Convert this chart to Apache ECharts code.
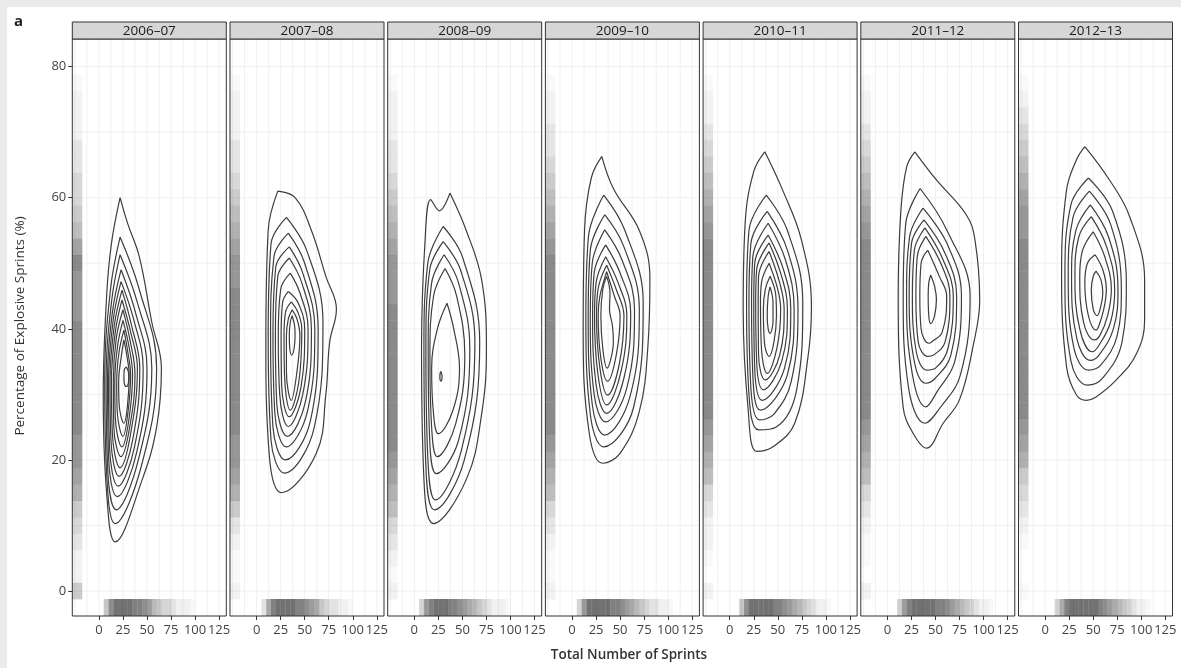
<!DOCTYPE html>
<html>
<head>
<meta charset="utf-8">
<script src="https://cdn.jsdelivr.net/npm/echarts@6/dist/echarts.min.js"></script>
<style>
  html, body { margin: 0; padding: 0; background: #ebebeb; }
  #paper { position: absolute; left: 7px; top: 7px; width: 1174px; height: 661px; background: #fff; }
  #chart { position: absolute; left: 0; top: 0; width: 1181px; height: 668px; }
</style>
</head>
<body>
<div id="paper"></div>
<div id="chart"></div>
<script>
// facets
const seasons = ['2006–07', '2007–08', '2008–09', '2009–10', '2010–11', '2011–12', '2012–13'];

// axes
const xTicks = [0, 25, 50, 75, 100, 125];
const yTicks = [0, 20, 40, 60, 80];
const xRange = [-27.7, 132.5];
const yRange = [-3.8, 84.2];
const xGridLines = [-25, -12.5, 0, 12.5, 25, 37.5, 50, 62.5, 75, 87.5, 100, 112.5, 125];
const yGridLines = [0, 10, 20, 30, 40, 50, 60, 70, 80];

// rug bins (left: % explosive, bottom: total sprints), values are darkness levels
const leftRugBins = [0, 2.5, 5, 7.5, 10, 12.5, 15, 17.5, 20, 22.5, 25, 27.5, 30, 32.5, 35, 37.5, 40,
  42.5, 45, 47.5, 50, 52.5, 55, 57.5, 60, 62.5, 65, 67.5, 70, 72.5, 75, 77.5, 80];
const bottomRugBins = [2.5, 7.5, 12.5, 17.5, 22.5, 27.5, 32.5, 37.5, 42.5, 47.5, 52.5, 57.5, 62.5,
  67.5, 72.5, 77.5, 82.5, 87.5, 92.5, 97.5, 102.5, 107.5];
const leftRugX = -22.5;
const bottomRugY = -2.5;

const leftRug0607 = [4,1,1,2,3,4,6,7,8,8,9,9,9,9,9,9,9,8,8,8,9,7,5,4,3,3,2,2,1,1,1,0.5,0];
const leftRug0708 = [1,0.5,0.5,1,2,4,6,7,8,8,9,9,9,9,9,9,9,9,9,8,8,7,6,5,4,3,2,2,1,1,1,0.5,0];
const leftRug0809 = [1,0.5,1,2,3,5,6,7,8,9,9,9,9,9,9,9,9,9,8,8,8,7,6,5,4,3,2,2,1,1,1,0.5,0];
const leftRug0910 = [1,0.5,0.5,1,2,3,5,6,7,8,9,9,9,9,9,9,9,9,9,9,9,8,7,6,5,4,3,2,2,1,1,0.5,0];
const leftRug1011 = [1,0,0.5,1,1,2,3,5,6,7,8,9,9,9,9,9,9,9,9,9,9,9,8,7,6,5,4,3,2,1,1,0.5,0];
const leftRug1112 = [1,0,0.5,0.5,1,2,3,5,6,7,8,9,9,9,9,9,9,9,9,9,9,9,8,7,6,5,4,3,2,1,1,0.5,0];
const leftRug1213 = [0.5,0,0,0.5,1,2,3,4,6,7,8,9,9,9,9,9,9,9,9,9,9,9,8,8,7,6,5,4,3,2,1,0.5,0];

const bottomRug0607 = [0,4,8,10,10,10,10,9,9,8,7,5,4,3,3,2,1,1,1,0.5,0,0];
const bottomRug0708 = [0,2,6,9,10,10,10,10,9,9,8,7,6,4,3,2,2,1,1,0.5,0,0];
const bottomRug0809 = [0,3,7,9,10,10,10,9,9,8,7,6,5,4,3,2,1,1,1,0.5,0,0];
const bottomRug0910 = [0,3,7,10,10,10,10,10,9,9,8,7,6,5,4,3,2,2,1,1,0.5,0];
const bottomRug1011 = [0,0,4,8,10,10,10,10,10,9,9,8,7,6,5,4,3,2,1,1,0.5,0];
const bottomRug1112 = [0,0,3,7,9,10,10,10,10,10,9,9,8,7,6,5,4,3,2,1,1,0.5];
const bottomRug1213 = [0,0,3,6,9,10,10,10,10,10,10,9,8,7,6,5,4,3,2,1,1,0.5];

// density contours, [sprints, %] going clockwise from the top
const contours0607 = [
  [[22,60],[30,56],[42,51],[55,41],[65,34],[60,25],[45,17],[17,7.5],[8,15],[4.5,30],[8,45],[13,53]],
  [[22,54],[42,46],[60,34],[44,19],[17,10.3],[8,18],[6,32],[12,46]],
  [[22,51.3],[40,44],[55,34],[41,20],[18,12.4],[9,19],[7.5,32],[13,44]],
  [[23,49],[38,42.5],[50,34],[39,21],[19,14.4],[10,20.5],[9,32],[14,42.5]],
  [[23,47.2],[36,41.5],[46,34],[37,22],[20,16],[11,22],[10,32],[15,41.5]],
  [[24,45.9],[34,40.5],[42.5,34],[35,23],[21,17.5],[12.5,23],[11.5,32],[16,40.5]],
  [[24,44.4],[33,39.5],[40,34],[33,24],[22,18.8],[14,24],[13,32],[17,39.5]],
  [[25,42.9],[32,38.5],[37.5,33],[32,25],[23,20.5],[15.5,25],[15,32],[18,38.5]],
  [[25,41.3],[31,37.5],[35,33],[31,26],[24,22],[17,26.5],[16.5,32],[19.5,37.5]],
  [[26,39.8],[30,36.5],[33,33],[30,27],[25,23.6],[19,27.5],[18.5,32],[21,36.5]],
  [[26,38.3],[29.5,35.5],[31.5,33],[29.5,28],[26,25.6],[21,28.5],[20.5,32],[23,35.5]],
  [[28.5,34.2],[30.5,33.5],[31,32.7],[30.5,31.6],[28.5,31.2],[26.5,31.6],[26,32.7],[26.5,33.8]]
];
const contours0708 = [
  [[22,61],[40,60],[57,55],[72,48],[83,43],[76,38],[72,30],[62,21],[26,15],[13,21],[9.6,38],[12,55]],
  [[31,57],[52,52],[69,41],[60,25],[29,18],[15,23],[12,39],[15,53]],
  [[33,54.6],[50,50],[64,40],[56,26],[30,20],[17,25],[14.5,39],[18,51]],
  [[34,52.5],[48,48.5],[60.5,40],[53,27.5],[31,22],[19,27],[17,39],[20,49.5]],
  [[34,50.8],[47,47],[57,40],[51,29],[32,23.6],[21,28.5],[19.5,39],[22,48]],
  [[35,48.5],[45,45.5],[53.5,40],[48,30],[33,25.1],[24,30],[22.5,39],[25,46]],
  [[33,45.7],[43,44],[50,40],[46,31],[34,26.6],[26,31.5],[25.5,39],[27,44]],
  [[36,44.1],[43,42.5],[47,40],[44,32],[35,27.6],[29,33],[28.5,39],[30,42.5]],
  [[37,42.9],[42,41.5],[45,39],[42,33.5],[36,29.1],[31,33.5],[31,39],[33,41.5]],
  [[37,42],[39.5,40.5],[40,39],[39,37],[36.5,36],[34.5,37],[34,39],[35,41]]
];
const contours0809 = [
  [[37,60.7],[54,55],[70,47.5],[75,37],[70,27],[54,17],[20,10.3],[10,17],[7.5,37],[11,53],[17,59.7],[26,58]],
  [[30,55.6],[50,51],[68,38],[52,20],[21,12.4],[12,19],[10,37],[14,50]],
  [[30,53.3],[48,49],[63,38],[49,21.5],[22,13.9],[14,20.5],[12,37],[16,49]],
  [[31,51.3],[46,47],[57.7,37],[46,23],[23,17.9],[16,23],[14.4,37],[18,47]],
  [[32,49.2],[44,45],[52.5,36],[43,25.5],[24,20.5],[18,25],[16.2,36],[20,45]],
  [[34,43.9],[41,40],[47,34],[40,27.5],[25,24],[20,27],[18,34],[24,40]],
  [[27.6,33.5],[28.6,33],[28.8,32.7],[28.6,32.2],[27.6,32],[26.8,32.2],[26.6,32.7],[26.8,33.2]]
];
const contours0910 = [
  [[31,66.3],[43,61.4],[70,55],[81,47.7],[79,37.5],[70,27.4],[50,21],[32,19.5],[18,24],[11.6,40],[13,55],[20,63]],
  [[33,60.4],[55,55],[74,44],[64,28],[33,22],[19,27],[14.4,42],[17,54]],
  [[34,57.4],[54,52.5],[70,43],[60,29.5],[34,23.8],[21,28.5],[16.8,42],[19,52]],
  [[34,55.1],[52,50.5],[65,43],[57,31],[35,25.8],[23,30],[19,42],[21,50]],
  [[35,52.8],[50,48.5],[61,42.5],[54,32.5],[36,27.1],[25,31.5],[21.4,42],[23,48.5]],
  [[35,51],[48,47],[57,42],[51,33.5],[36,28.4],[27,33],[23.4,42],[25,47]],
  [[36,49.7],[46,46],[54,42],[49,34.5],[37,29.9],[29,34],[25.5,42],[27,46]],
  [[36,48.7],[44,45],[50,42],[46,36],[37,32],[30,35.5],[27.2,42],[29,45]],
  [[36,48],[39.5,45.5],[39,43],[42,40.5],[43,38],[40.5,35.5],[36.5,34],[32,37],[30,42],[32,46]]
];
const contours1011 = [
  [[36.5,67],[55.5,61],[74.5,53.6],[85,43.4],[81.5,35.8],[67.6,25.6],[45,22],[28,21.3],[19,28],[14,43],[16,56],[25,64]],
  [[38,60.4],[60,55],[76,44],[70,31],[48,25],[30,24.6],[20,30],[17.5,44],[20,55]],
  [[39,57.9],[60,52],[71,43],[64,32],[46,27],[31,26.1],[22,31],[20,44],[22,53]],
  [[40,56.1],[58,50.5],[67,43],[60,33],[32,27.6],[24,33],[22.7,44],[24,51]],
  [[40,54.3],[56,49],[63.5,43],[57,34],[34,29.1],[26,34],[25,44],[26,50]],
  [[41,53.1],[54,48],[60,43],[54,35],[35,30.7],[28,35],[27,44],[28,49]],
  [[41,51.8],[52,47],[56.6,43],[52,36],[37,32.2],[30,36],[29.6,44],[30,48]],
  [[41,50],[50,46],[53,43],[49,37],[39,33.2],[33,37],[32,44],[33,47]],
  [[42,48],[48,45],[48.6,42],[46,38],[41,35.8],[36,38],[35,43],[37,46]],
  [[42,46.4],[45,44],[45,41],[44,40],[42,39.3],[40,40],[39,42],[40,45]]
];
const contours1112 = [
  [[28.5,67],[51,62.7],[82,57.4],[91,53.6],[96,44.4],[89,37.3],[75,29.2],[58,25.6],[40.6,21.8],[27,24],[16.4,28],[11.2,45],[14,58],[20,64.7]],
  [[34,61.4],[62,55],[86,45],[76,33],[55,28],[39,25.6],[22,31],[16.4,45],[19,56]],
  [[37,58.4],[62,53],[77,45],[70,35],[52,30.5],[40,28.1],[26,33],[19.9,45],[23,54]],
  [[38,56.6],[60,51.5],[72,45],[66,36],[50,32.5],[40,31.7],[28,35],[22.6,45],[25,53]],
  [[39,55.4],[58,50.5],[68.5,45],[63,37],[50,34],[41,33.7],[30,36.5],[26,45],[28,52]],
  [[40,54.1],[57,49.5],[65,45],[60,38],[48,36],[42,35.8],[32,38],[29.6,45],[31,51]],
  [[42,52],[54,48],[61.6,45],[57,39.5],[46,38],[43,37.8],[35,40],[33.7,45],[35,50]],
  [[45,48.2],[49,46.5],[51,44.5],[49,42],[45,40.8],[43,42],[42.4,45],[43,47]]
];
const contours1213 = [
  [[41.3,67.8],[67,62.7],[88,57.1],[103.5,47.4],[103.5,41.3],[95,36.2],[74,32.2],[53,29.6],[43,29.1],[32.6,29.9],[22.3,34.2],[17.1,48.5],[22.3,61.2],[32.6,65.8]],
  [[45,63],[70,58],[84.5,47],[80,38],[60,32.5],[44,31.4],[27,35],[20.6,48],[27,59]],
  [[46,61],[68,56],[79.3,46],[75,39],[58,34.5],[45,33.7],[30,37],[24,48],[29,57]],
  [[47,58.9],[66,54],[75.8,46],[71,40],[56,36],[47,35.2],[33,38.5],[27.5,48],[32,55]],
  [[48,57.1],[64,52.5],[72.4,46],[68,41],[56,37.5],[49,36.5],[36,40],[31,48],[35,54]],
  [[50,54.8],[62,51],[68.9,46],[65,42],[57,39],[51,38.3],[40,41],[36,48],[39,52]],
  [[52,51.3],[60,49],[63.7,46],[61,43],[56,40.5],[53,39.8],[45,42],[41.3,47],[44,50]],
  [[53,48.8],[58,47.5],[60,45.5],[58,43.5],[54,42],[50,43],[48,46],[50,48]]
];

const panels = [
  { contours: contours0607, left: leftRug0607, bottom: bottomRug0607 },
  { contours: contours0708, left: leftRug0708, bottom: bottomRug0708 },
  { contours: contours0809, left: leftRug0809, bottom: bottomRug0809 },
  { contours: contours0910, left: leftRug0910, bottom: bottomRug0910 },
  { contours: contours1011, left: leftRug1011, bottom: bottomRug1011 },
  { contours: contours1112, left: leftRug1112, bottom: bottomRug1112 },
  { contours: contours1213, left: leftRug1213, bottom: bottomRug1213 }
];

const FONT = 'Open Sans';
const panelTop = 39, panelH = 577, panelW = 154, pitch = 157.7, firstLeft = 72.3;
const rugAlpha = 0.072;

const chart = echarts.init(document.getElementById('chart'), null, { renderer: 'canvas' });

const grids = [], xAxes = [], yAxes = [], series = [], graphics = [];

panels.forEach((p, i) => {
  const left = firstLeft + i * pitch;
  grids.push({ left: left, top: panelTop, width: panelW, height: panelH, show: false });
  xAxes.push({
    type: 'value', gridIndex: i, min: xRange[0], max: xRange[1], position: 'bottom',
    axisLine: { show: false, onZero: false },
    splitLine: { show: false },
    axisTick: { show: true, customValues: xTicks, length: 4, lineStyle: { color: '#333' } },
    axisLabel: { customValues: xTicks, color: '#444', fontSize: 13, fontFamily: FONT, margin: 8 }
  });
  yAxes.push({
    type: 'value', gridIndex: i, min: yRange[0], max: yRange[1], position: 'left',
    axisLine: { show: false, onZero: false },
    splitLine: { show: false },
    axisTick: { show: i === 0, customValues: yTicks, length: 4, lineStyle: { color: '#333' } },
    axisLabel: { show: i === 0, customValues: yTicks, color: '#444', fontSize: 13, fontFamily: FONT, margin: 6 }
  });

  // faint panel grid lines
  xGridLines.forEach(v => series.push({
    type: 'line', xAxisIndex: i, yAxisIndex: i, silent: true, z: 0, showSymbol: false, symbol: 'none',
    data: [[v, yRange[0]], [v, yRange[1]]], lineStyle: { color: '#f0f0f0', width: 1 }
  }));
  yGridLines.forEach(v => series.push({
    type: 'line', xAxisIndex: i, yAxisIndex: i, silent: true, z: 0, showSymbol: false, symbol: 'none',
    data: [[xRange[0], v], [xRange[1], v]], lineStyle: { color: '#f0f0f0', width: 1 }
  }));

  // bottom rug
  series.push({
    type: 'scatter', xAxisIndex: i, yAxisIndex: i, silent: true, z: 1,
    symbol: 'rect', symbolSize: [4.9, 17],
    itemStyle: { color: '#3c3c3c' },
    data: bottomRugBins.map((x, k) => ({ value: [x, bottomRugY], itemStyle: { opacity: p.bottom[k] * rugAlpha } }))
  });
  // left rug
  series.push({
    type: 'scatter', xAxisIndex: i, yAxisIndex: i, silent: true, z: 1,
    symbol: 'rect', symbolSize: [10, 16.5],
    itemStyle: { color: '#4a4a4a' },
    data: leftRugBins.map((y, k) => ({ value: [leftRugX, y], itemStyle: { opacity: p.left[k] * rugAlpha } }))
  });
  // contours
  p.contours.forEach(c => {
    series.push({
      type: 'line', xAxisIndex: i, yAxisIndex: i, silent: true, z: 3,
      data: c.concat([c[0]]), smooth: 0.4, showSymbol: false, symbol: 'none',
      lineStyle: { color: '#3d3d3d', width: 1.2 }
    });
  });

  // panel border and facet strip
  graphics.push({
    type: 'rect', z: 100, shape: { x: left, y: panelTop, width: panelW, height: panelH },
    style: { fill: 'none', stroke: '#333', lineWidth: 1 }
  });
  graphics.push({
    type: 'rect', z: 100, shape: { x: left, y: 22, width: panelW, height: 17 },
    style: { fill: '#d6d6d6', stroke: '#333', lineWidth: 1 }
  });
  graphics.push({
    type: 'text', z: 101, x: left + panelW / 2, y: 31,
    style: { text: seasons[i], fill: '#1a1a1a', fontSize: 13.5, fontFamily: FONT,
      textAlign: 'center', textVerticalAlign: 'middle', align: 'center', verticalAlign: 'middle' }
  });
});

graphics.push({
  type: 'text', x: 14, y: 22,
  style: { text: 'a', fill: '#222', fontSize: 15, fontWeight: 'bold', fontFamily: FONT,
    textVerticalAlign: 'middle', verticalAlign: 'middle' }
});
graphics.push({
  type: 'text', x: 629, y: 655,
  style: { text: 'Total Number of Sprints', fill: '#333', fontSize: 13.5, fontWeight: 600, fontFamily: FONT,
    textAlign: 'center', textVerticalAlign: 'middle', align: 'center', verticalAlign: 'middle' }
});
graphics.push({
  type: 'text', x: 20, y: 326, rotation: Math.PI / 2,
  style: { text: 'Percentage of Explosive Sprints (%)', fill: '#333', fontSize: 13.5, fontFamily: FONT,
    textAlign: 'center', textVerticalAlign: 'middle', align: 'center', verticalAlign: 'middle' }
});

chart.setOption({
  animation: false,
  backgroundColor: 'transparent',
  grid: grids,
  xAxis: xAxes,
  yAxis: yAxes,
  series: series,
  graphic: { elements: graphics }
});
</script>
</body>
</html>
